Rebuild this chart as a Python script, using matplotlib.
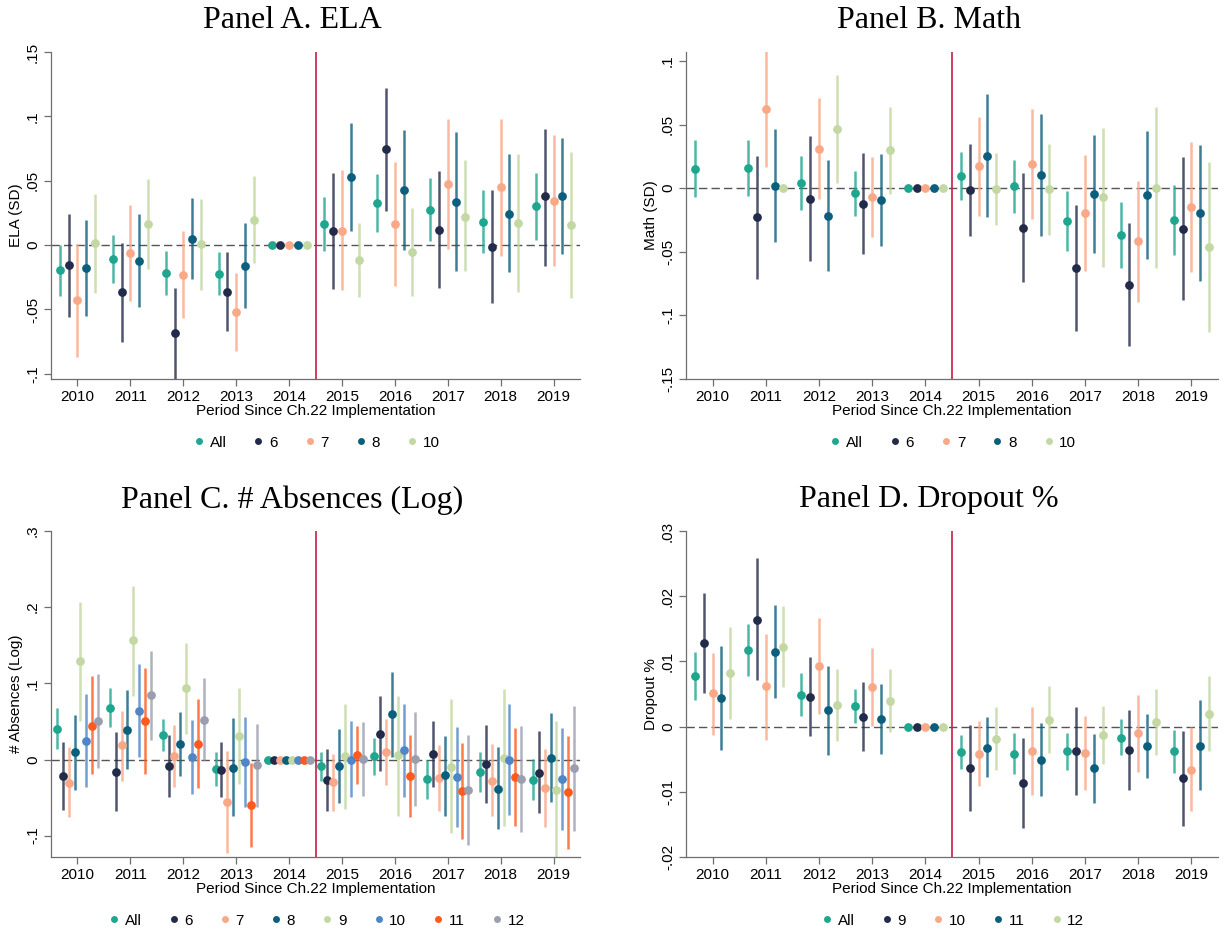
import numpy as np
import matplotlib
matplotlib.use("Agg")
import matplotlib.pyplot as plt
from matplotlib.lines import Line2D

nan = np.nan

# Years on the x axis.
years = [2010, 2011, 2012, 2013, 2014, 2015, 2016, 2017, 2018, 2019]

# Panel A. ELA (rows: All, 6, 7, 8, 10)
ela_labels = ["All", "6", "7", "8", "10"]
ela_est = [
    [-0.0196, -0.0108, -0.0214, -0.0224, 0, 0.0162, 0.0325, 0.0276, 0.0183, 0.0302],
    [-0.0155, -0.0366, -0.0686, -0.0361, 0, 0.0111, 0.0745, 0.0121, -0.0013, 0.0379],
    [-0.0430, -0.0062, -0.0232, -0.0520, 0, 0.0113, 0.0165, 0.0474, 0.0451, 0.0345],
    [-0.0178, -0.0121, 0.0049, -0.0160, 0, 0.0528, 0.0428, 0.0338, 0.0245, 0.0384],
    [0.0015, 0.0162, 0.0008, 0.0198, 0, -0.0116, -0.0052, 0.0222, 0.0173, 0.0157],
]
ela_lo = [
    [-0.0397, -0.0291, -0.0384, -0.0384, nan, -0.0046, 0.0098, 0.0034, -0.0062, 0.0039],
    [-0.0557, -0.0750, -0.1100, -0.0670, nan, -0.0343, 0.0268, -0.0330, -0.0451, -0.0160],
    [-0.0869, -0.0436, -0.0567, -0.0825, nan, -0.0350, -0.0314, -0.0031, -0.0082, -0.0160],
    [-0.0552, -0.0480, -0.0263, -0.0485, nan, 0.0108, -0.0041, -0.0198, -0.0211, -0.0070],
    [-0.0371, -0.0188, -0.0350, -0.0139, nan, -0.0402, -0.0392, -0.0204, -0.0361, -0.0410],
]
ela_hi = [
    [0.0000, 0.0075, -0.0044, -0.0057, nan, 0.0374, 0.0552, 0.0518, 0.0428, 0.0562],
    [0.0242, 0.0015, -0.0332, -0.0052, nan, 0.0564, 0.1219, 0.0575, 0.0428, 0.0905],
    [0.0010, 0.0312, 0.0111, -0.0216, nan, 0.0582, 0.0642, 0.0982, 0.0982, 0.0853],
    [0.0196, 0.0242, 0.0363, 0.0175, nan, 0.0951, 0.0897, 0.0879, 0.0706, 0.0835],
    [0.0397, 0.0513, 0.0358, 0.0539, nan, 0.0173, 0.0286, 0.0660, 0.0706, 0.0724],
]

# Panel B. Math (rows: All, 6, 7, 8, 10)
math_labels = ["All", "6", "7", "8", "10"]
math_est = [
    [0.0154, 0.0162, 0.0042, -0.0039, 0, 0.0092, 0.0013, -0.0259, -0.0366, -0.0251],
    [nan, -0.0230, -0.0084, -0.0123, 0, -0.0018, -0.0312, -0.0631, -0.0762, -0.0322],
    [nan, 0.0620, 0.0309, -0.0068, 0, 0.0173, 0.0191, -0.0196, -0.0416, -0.0149],
    [nan, 0.0016, -0.0217, -0.0094, 0, 0.0254, 0.0102, -0.0045, -0.0052, -0.0196],
    [nan, 0.0000, 0.0466, 0.0298, 0, -0.0005, -0.0010, -0.0073, 0.0005, -0.0461],
]
math_lo = [
    [-0.0073, -0.0060, -0.0173, -0.0215, nan, -0.0094, -0.0196, -0.0497, -0.0626, -0.0529],
    [nan, -0.0712, -0.0573, -0.0521, nan, -0.0380, -0.0741, -0.1120, -0.1243, -0.0880],
    [nan, 0.0170, -0.0086, -0.0387, nan, -0.0215, -0.0243, -0.0652, -0.0893, -0.0657],
    [nan, -0.0427, -0.0652, -0.0453, nan, -0.0228, -0.0380, -0.0508, -0.0555, -0.0728],
    [nan, nan, 0.0039, -0.0047, nan, -0.0288, -0.0372, -0.0623, -0.0631, -0.1128],
]
math_hi = [
    [0.0382, 0.0382, 0.0254, 0.0134, nan, 0.0283, 0.0225, -0.0024, -0.0110, 0.0024],
    [nan, 0.0251, 0.0408, 0.0280, nan, 0.0348, 0.0120, -0.0134, -0.0277, 0.0241],
    [nan, 0.1100, 0.0707, 0.0246, nan, 0.0563, 0.0623, 0.0259, 0.0060, 0.0361],
    [nan, 0.0461, 0.0220, 0.0270, nan, 0.0738, 0.0584, 0.0414, 0.0450, 0.0340],
    [nan, nan, 0.0893, 0.0639, nan, 0.0275, 0.0346, 0.0469, 0.0634, 0.0209],
]

# Panel C. # Absences (Log) (rows: All, 6, 7, 8, 9, 10, 11, 12)
abs_labels = ["All", "6", "7", "8", "9", "10", "11", "12"]
abs_est = [
    [0.0407, 0.0678, 0.0324, -0.0123, 0, -0.0083, 0.0048, -0.0258, -0.0166, -0.0263],
    [-0.0214, -0.0158, -0.0083, -0.0136, 0, -0.0263, 0.0341, 0.0066, -0.0057, -0.0171],
    [-0.0302, 0.0184, 0.0048, -0.0560, 0, -0.0298, 0.0092, -0.0245, -0.0276, -0.0372],
    [0.0096, 0.0390, 0.0206, -0.0105, 0, -0.0079, 0.0591, -0.0210, -0.0381, 0.0026],
    [0.1287, 0.1567, 0.0941, 0.0315, 0, 0.0044, 0.0053, -0.0092, 0.0026, -0.0394],
    [0.0249, 0.0639, 0.0039, -0.0035, 0, 0.0000, 0.0127, -0.0228, 0.0000, -0.0254],
    [0.0446, 0.0503, 0.0206, -0.0591, 0, 0.0057, -0.0219, -0.0411, -0.0232, -0.0429],
    [0.0512, 0.0845, 0.0525, -0.0070, 0, 0.0004, 0.0009, -0.0398, -0.0254, -0.0114],
]
abs_lo = [
    [0.0136, 0.0425, 0.0109, -0.0350, nan, -0.0276, -0.0197, -0.0521, -0.0433, -0.0538],
    [-0.0660, -0.0670, -0.0486, -0.0495, nan, -0.0670, -0.0153, -0.0363, -0.0565, -0.0705],
    [-0.0757, -0.0276, -0.0363, -0.1230, nan, -0.0670, -0.0337, -0.0678, -0.0748, -0.0888],
    [-0.0394, -0.0127, -0.0223, -0.0748, nan, -0.0565, 0.0031, -0.0740, -0.0915, -0.0556],
    [0.0503, 0.0840, 0.0337, -0.0320, nan, -0.0652, -0.0740, -0.0963, -0.0875, -0.1350],
    [-0.0363, 0.0031, -0.0451, -0.0626, nan, -0.0495, -0.0486, -0.0888, -0.0735, -0.0932],
    [-0.0188, -0.0188, -0.0372, -0.1151, nan, -0.0324, -0.0761, -0.1042, -0.0871, -0.1173],
    [-0.0114, 0.0258, -0.0013, -0.0617, nan, -0.0473, -0.0613, -0.1116, -0.0954, -0.0941],
]
abs_hi = [
    [0.0670, 0.0941, 0.0534, 0.0105, nan, 0.0105, 0.0284, -0.0013, 0.0096, 0.0009],
    [0.0228, 0.0359, 0.0328, 0.0228, nan, 0.0140, 0.0836, 0.0499, 0.0455, 0.0368],
    [0.0162, 0.0635, 0.0451, 0.0109, nan, 0.0066, 0.0534, 0.0193, 0.0197, 0.0140],
    [0.0586, 0.0906, 0.0630, 0.0547, nan, 0.0407, 0.1155, 0.0315, 0.0162, 0.0608],
    [0.2074, 0.2284, 0.1536, 0.0941, nan, 0.0731, 0.0840, 0.0792, 0.0932, 0.0512],
    [0.0862, 0.1252, 0.0521, 0.0556, nan, 0.0512, 0.0731, 0.0433, 0.0731, 0.0420],
    [0.1090, 0.1204, 0.0788, -0.0048, nan, 0.0438, 0.0319, 0.0223, 0.0416, 0.0315],
    [0.1125, 0.1431, 0.1072, 0.0460, nan, 0.0490, 0.0626, 0.0324, 0.0446, 0.0709],
]

# Panel D. Dropout % (rows: All, 9, 10, 11, 12)
drop_labels = ["All", "9", "10", "11", "12"]
drop_est = [
    [0.0078, 0.0118, 0.0049, 0.0032, 0, -0.0039, -0.0042, -0.0038, -0.0017, -0.0038],
    [0.0128, 0.0164, 0.0046, 0.0015, 0, -0.0063, -0.0087, -0.0037, -0.0036, -0.0079],
    [0.0051, 0.0062, 0.0093, 0.0060, 0, -0.0042, -0.0037, -0.0040, -0.0010, -0.0066],
    [0.0044, 0.0115, 0.0026, 0.0012, 0, -0.0033, -0.0051, -0.0064, -0.0030, -0.0029],
    [0.0082, 0.0122, 0.0033, 0.0040, 0, -0.0019, 0.0010, -0.0013, 0.0007, 0.0019],
]
drop_lo = [
    [0.0041, 0.0078, 0.0017, 0.0005, nan, -0.0065, -0.0072, -0.0066, -0.0044, -0.0071],
    [0.0051, 0.0071, -0.0014, -0.0038, nan, -0.0129, -0.0155, -0.0105, -0.0098, -0.0153],
    [-0.0013, -0.0020, 0.0019, 0.0001, nan, -0.0091, -0.0105, -0.0097, -0.0069, -0.0129],
    [-0.0036, 0.0044, -0.0043, -0.0042, nan, -0.0078, -0.0106, -0.0117, -0.0079, -0.0097],
    [0.0011, 0.0061, -0.0022, -0.0009, nan, -0.0067, -0.0041, -0.0057, -0.0044, -0.0037],
]
drop_hi = [
    [0.0115, 0.0158, 0.0082, 0.0058, nan, -0.0013, -0.0010, -0.0010, 0.0011, -0.0005],
    [0.0205, 0.0259, 0.0106, 0.0068, nan, 0.0003, -0.0018, 0.0030, 0.0025, -0.0006],
    [0.0113, 0.0142, 0.0167, 0.0120, nan, 0.0009, 0.0030, 0.0016, 0.0049, 0.0000],
    [0.0124, 0.0187, 0.0093, 0.0066, nan, 0.0014, 0.0006, -0.0012, 0.0019, 0.0041],
    [0.0153, 0.0185, 0.0088, 0.0089, nan, 0.0030, 0.0062, 0.0031, 0.0058, 0.0077],
]

# Colours used by the grade series.
TEAL = "#1fa68f"
NAVY = "#232b4b"
SALMON = "#f9a888"
DKTEAL = "#0c5e7d"
LTGREEN = "#c3d8a2"
BLUE = "#4f86c8"
ORANGE = "#fd5a1e"
GRAY = "#9b9eae"

five_colors = [TEAL, NAVY, SALMON, DKTEAL, LTGREEN]
eight_colors = [TEAL, NAVY, SALMON, DKTEAL, LTGREEN, BLUE, ORANGE, GRAY]

TICK_FONT = "Liberation Sans"
TITLE_FONT = "Liberation Serif"
AXIS_GRAY = "#6e6e6e"


def stata_label(v):
    # Formats tick values like Stata: .05 instead of 0.05
    s = f"{round(v, 4):g}"
    s = s.replace("0.", ".")
    if s == "-0":
        s = "0"
    return s


def draw_panel(fig, rect, title, ylabel, labels, colors, est, lo, hi,
               ylim, yticks, offsets):
    W, H = 1225, 936
    left, right, top, bottom = rect
    ax = fig.add_axes([left / W, 1 - bottom / H, (right - left) / W, (bottom - top) / H])

    x = np.array(years, dtype=float)
    for i, lab in enumerate(labels):
        xs = x + offsets[i]
        e = np.array(est[i], dtype=float)
        l = np.array(lo[i], dtype=float)
        h = np.array(hi[i], dtype=float)
        ax.vlines(xs, l, h, color=colors[i], lw=1.8, alpha=0.8, zorder=2)
        ax.plot(xs, e, "o", color=colors[i], ms=6.3, mec="none", zorder=3)

    ax.axhline(0, color="#555555", lw=1.0, dashes=(6, 3), zorder=1)
    ax.axvline(2014.5, color="#c81e48", lw=1.2, zorder=1)

    ax.set_xlim(2009.5, 2019.5)
    ax.set_ylim(*ylim)
    ax.set_xticks(years)
    ax.set_xticklabels([str(y) for y in years], fontsize=11, family=TICK_FONT)
    ax.set_yticks(yticks)
    ax.set_yticklabels([stata_label(v) for v in yticks], fontsize=11,
                       family=TICK_FONT, rotation=90, va="center")
    ax.tick_params(length=5, width=0.9, color=AXIS_GRAY, pad=3)
    for side in ["top", "right"]:
        ax.spines[side].set_visible(False)
    for side in ["left", "bottom"]:
        ax.spines[side].set_color(AXIS_GRAY)
        ax.spines[side].set_linewidth(0.9)

    ax.set_xlabel("Period Since Ch.22 Implementation", fontsize=11,
                  family=TICK_FONT, labelpad=0)
    ax.set_ylabel(ylabel, fontsize=11, family=TICK_FONT, labelpad=2)

    # Title is centred on the whole panel, including the y-axis label area.
    fig.text(((left + right) / 2 - 23) / W, 1 - (top - 31) / H, title,
             ha="center", va="center", fontsize=23, family=TITLE_FONT)

    handles = [Line2D([], [], marker="o", ls="none", color=c, ms=5, mec="none")
               for c in colors]
    ax.legend(handles, labels, loc="center", bbox_to_anchor=(0.5, -0.195),
              ncol=len(labels), frameon=False, handletextpad=0.2,
              columnspacing=1.6, handlelength=1.0,
              prop={"family": TICK_FONT, "size": 11})
    return ax


fig = plt.figure(figsize=(12.25, 9.36), dpi=100)
fig.patch.set_facecolor("white")

off5 = [-0.33, -0.165, 0.0, 0.165, 0.33]
off8 = list(np.linspace(-0.39, 0.39, 8))

draw_panel(fig, (51, 580, 52, 379), "Panel A. ELA", "ELA (SD)",
           ela_labels, five_colors, ela_est, ela_lo, ela_hi,
           (-0.104, 0.15), [-0.1, -0.05, 0, 0.05, 0.1, 0.15], off5)

draw_panel(fig, (686, 1218, 52, 379), "Panel B. Math", "Math (SD)",
           math_labels, five_colors, math_est, math_lo, math_hi,
           (-0.15, 0.107), [-0.15, -0.1, -0.05, 0, 0.05, 0.1], off5)

draw_panel(fig, (51, 580, 531, 857), "Panel C. # Absences (Log)", "# Absences (Log)",
           abs_labels, eight_colors, abs_est, abs_lo, abs_hi,
           (-0.128, 0.3), [-0.1, 0, 0.1, 0.2, 0.3], off8)

draw_panel(fig, (686, 1218, 531, 857), "Panel D. Dropout %", "Dropout %",
           drop_labels, five_colors, drop_est, drop_lo, drop_hi,
           (-0.02, 0.03), [-0.02, -0.01, 0, 0.01, 0.02, 0.03], off5)

fig.savefig("out.png", dpi=100, facecolor="white")
